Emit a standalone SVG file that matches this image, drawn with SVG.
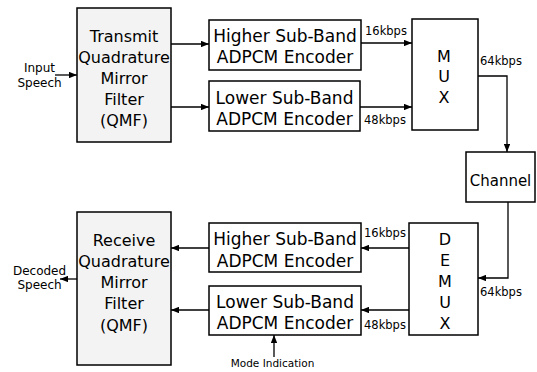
<svg xmlns="http://www.w3.org/2000/svg" width="537" height="372" viewBox="0 0 537 372">
<style>
.box{fill:#fff;stroke:#000;stroke-width:1.5}
.qmf{fill:#f3f3f3;stroke:#000;stroke-width:1.5}
.t{font-family:"DejaVu Sans",sans-serif;font-size:16px;fill:#000;text-anchor:middle}
.e{font-family:"DejaVu Sans",sans-serif;font-size:17px;fill:#000;text-anchor:middle}
.s{font-family:"DejaVu Sans",sans-serif;font-size:11.5px;fill:#000}
.l{font-family:"DejaVu Sans",sans-serif;font-size:12px;fill:#000;text-anchor:middle}
.c{fill:none;stroke:#000;stroke-width:1.3}
</style>
<defs>
<marker id="ah" viewBox="0 0 10 8" refX="10" refY="4" markerWidth="8" markerHeight="6.4" markerUnits="userSpaceOnUse" orient="auto">
<path d="M0,0 L10,4 L0,8 Z" fill="#000"/>
</marker>
</defs>
<g id="connectors">
<line class="c" x1="55" y1="75" x2="77" y2="75" marker-end="url(#ah)"/>
<line class="c" x1="171" y1="44" x2="209" y2="44" marker-end="url(#ah)"/>
<line class="c" x1="171" y1="107" x2="209" y2="107" marker-end="url(#ah)"/>
<line class="c" x1="361" y1="43" x2="412" y2="43" marker-end="url(#ah)"/>
<line class="c" x1="360" y1="107" x2="412" y2="107" marker-end="url(#ah)"/>
<polyline class="c" points="478,76 507,76 507,152" marker-end="url(#ah)"/>
<polyline class="c" points="508,202 508,278 478,278" marker-end="url(#ah)"/>
<line class="c" x1="409" y1="248" x2="361" y2="248" marker-end="url(#ah)"/>
<line class="c" x1="409" y1="310" x2="361" y2="310" marker-end="url(#ah)"/>
<line class="c" x1="209" y1="248" x2="171" y2="248" marker-end="url(#ah)"/>
<line class="c" x1="209" y1="310" x2="171" y2="310" marker-end="url(#ah)"/>
<line class="c" x1="77" y1="279" x2="60" y2="279" marker-end="url(#ah)"/>
<line class="c" x1="274" y1="357" x2="274" y2="335" marker-end="url(#ah)"/>
</g>
<g id="input-label">
<text class="l" x="39.5" y="72">Input</text>
<text class="l" x="39.5" y="87">Speech</text>
</g>
<g id="tx-qmf">
<rect class="qmf" x="77" y="8" width="94" height="134"/>
<text class="t" x="124" y="41.5">Transmit</text>
<text class="t" x="124" y="62.5">Quadrature</text>
<text class="t" x="124" y="83.5">Mirror</text>
<text class="t" x="124" y="104.5">Filter</text>
<text class="t" x="124" y="125.5">(QMF)</text>
</g>
<g id="tx-high">
<rect class="box" x="209" y="20" width="152" height="50"/>
<text class="e" x="285" y="42">Higher Sub-Band</text>
<text class="e" x="285" y="63">ADPCM Encoder</text>
</g>
<g id="tx-low">
<rect class="box" x="209" y="81" width="151" height="50"/>
<text class="e" x="284.5" y="104">Lower Sub-Band</text>
<text class="e" x="284.5" y="124.5">ADPCM Encoder</text>
</g>
<g id="mux">
<rect class="box" x="412" y="19" width="66" height="111"/>
<text class="t" x="444" y="62">M</text>
<text class="t" x="444" y="82">U</text>
<text class="t" x="444" y="103">X</text>
</g>
<g id="rate-labels-top">
<text class="s" x="365" y="35">16kbps</text>
<text class="s" x="364" y="124">48kbps</text>
<text class="s" x="480" y="65">64kbps</text>
</g>
<g id="channel">
<rect class="box" x="466" y="152" width="69" height="50"/>
<text class="t" x="500.5" y="186" style="font-size:15px">Channel</text>
</g>
<g id="demux">
<rect class="box" x="409" y="223" width="69" height="112"/>
<text class="t" x="445" y="245">D</text>
<text class="t" x="445" y="266">E</text>
<text class="t" x="445" y="287">M</text>
<text class="t" x="445" y="308">U</text>
<text class="t" x="445" y="329">X</text>
</g>
<g id="rate-labels-bottom">
<text class="s" x="364" y="237">16kbps</text>
<text class="s" x="364" y="329">48kbps</text>
<text class="s" x="480" y="296">64kbps</text>
</g>
<g id="rx-high">
<rect class="box" x="209" y="223" width="152" height="49"/>
<text class="e" x="285" y="245">Higher Sub-Band</text>
<text class="e" x="285" y="266.5">ADPCM Encoder</text>
</g>
<g id="rx-low">
<rect class="box" x="209" y="286" width="152" height="49"/>
<text class="e" x="285" y="308">Lower Sub-Band</text>
<text class="e" x="285" y="329">ADPCM Encoder</text>
</g>
<g id="rx-qmf">
<rect class="qmf" x="77" y="212" width="94" height="153"/>
<text class="t" x="124" y="245.5">Receive</text>
<text class="t" x="124" y="266.7">Quadrature</text>
<text class="t" x="124" y="288">Mirror</text>
<text class="t" x="124" y="309">Filter</text>
<text class="t" x="124" y="330.5">(QMF)</text>
</g>
<g id="output-label">
<text class="l" x="39.5" y="275">Decoded</text>
<text class="l" x="39.5" y="289">Speech</text>
</g>
<g id="mode-label">
<text class="s" x="272.5" y="367" text-anchor="middle" style="font-size:10.5px">Mode Indication</text>
</g>
</svg>
